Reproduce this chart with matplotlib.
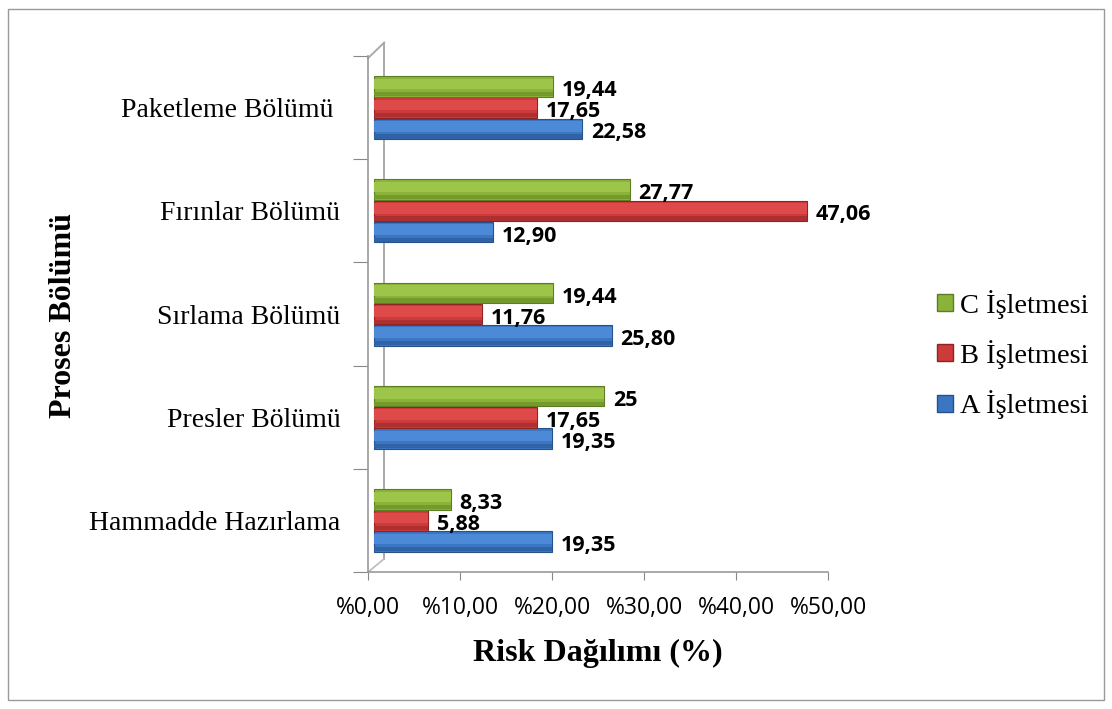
import numpy as np
import matplotlib
matplotlib.use("Agg")
from matplotlib import pyplot as plt
from matplotlib import transforms
from matplotlib.patches import Rectangle, Patch
from matplotlib.lines import Line2D

# data
categories = ["Hammadde Hazırlama", "Presler Bölümü", "Sırlama Bölümü",
              "Fırınlar Bölümü", "Paketleme Bölümü "]
a_values = [19.35, 19.35, 25.80, 12.90, 22.58]
b_values = [5.88, 17.65, 11.76, 47.06, 17.65]
c_values = [8.33, 25, 19.44, 27.77, 19.44]
a_labels = ["19,35", "19,35", "25,80", "12,90", "22,58"]
b_labels = ["5,88", "17,65", "11,76", "47,06", "17,65"]
c_labels = ["8,33", "25", "19,44", "27,77", "19,44"]
series_names = ["A İşletmesi", "B İşletmesi", "C İşletmesi"]
x_ticks = [0, 10, 20, 30, 40, 50]
x_tick_labels = ["%0,00", "%10,00", "%20,00", "%30,00", "%40,00", "%50,00"]

colors = ["#3A76C2", "#CC3A3A", "#8BB33A"]
lights = ["#4C89D6", "#DE4A4A", "#9CC549"]
darks = ["#2F63A6", "#AE2F2F", "#749A2C"]
edges = ["#24528C", "#8E2323", "#5E7D22"]

fig = plt.figure(figsize=(11.12, 7.09), dpi=100)
ax = fig.add_axes([0.331, 0.193, 0.414, 0.728])

# bars sit on the 3d floor, a few pixels to the right of the front spine
shift = ax.transData + transforms.ScaledTranslation(6 / 100, 0, fig.dpi_scale_trans)

y = np.arange(len(categories))
h = 0.205
offsets = [-h, 0, h]
all_vals = [a_values, b_values, c_values]
all_labs = [a_labels, b_labels, c_labels]

for k in range(3):
    bars = ax.barh(y + offsets[k], all_vals[k], height=h * 0.97, color=colors[k],
                   edgecolor=edges[k], linewidth=0.8, zorder=3)
    hl = ax.barh(y + offsets[k] + h * 0.12, all_vals[k], height=h * 0.5,
                 color=lights[k], linewidth=0, zorder=3.5)
    dk = ax.barh(y + offsets[k] - h * 0.36, all_vals[k], height=h * 0.2,
                 color=darks[k], linewidth=0, zorder=3.5)
    for p in list(bars) + list(hl) + list(dk):
        p.set_transform(shift)
    for i in range(len(categories)):
        ax.text(all_vals[k][i] + 1.6, y[i] + offsets[k] - 0.04, all_labs[k][i],
                fontsize=15.5, fontweight="bold", family="Open Sans",
                ha="left", va="center", color="black", zorder=4)

ax.set_xlim(0, 50)
ax.set_ylim(-0.5, len(categories) - 0.5)
ax.set_xticks(x_ticks)
ax.set_xticklabels(x_tick_labels, family="Open Sans", fontsize=16.5)
ax.set_yticks(np.arange(-0.5, len(categories) + 0.5, 1.0), minor=False)
ax.set_yticklabels([])
ax.set_yticks(y, minor=True)
ax.set_yticklabels(categories, minor=True, family="Liberation Serif", fontsize=20)
ax.tick_params(axis="y", which="minor", length=0, pad=20)
ax.tick_params(axis="y", which="major", length=11, color="#888888")
ax.tick_params(axis="x", length=6, color="#888888", pad=11)

for s in ["top", "right"]:
    ax.spines[s].set_visible(False)
ax.spines["left"].set_color("#999999")
ax.spines["bottom"].set_color("#999999")
ax.spines["left"].set_linewidth(1.2)
ax.spines["bottom"].set_linewidth(1.2)

# back wall of the 3d look
dx = 1.75
dy = 0.13
ax.add_line(Line2D([dx, dx], [-0.5 + dy, 4.5 + dy], color="#AAAAAA", lw=1.4, clip_on=False))
ax.add_line(Line2D([0, dx], [4.5 - 0.02, 4.5 + dy], color="#AAAAAA", lw=1.4, clip_on=False))
ax.add_line(Line2D([0, dx], [-0.5, -0.5 + dy], color="#BBBBBB", lw=1.2, clip_on=False))

ax.set_xlabel("Risk Dağılımı (%)", family="Liberation Serif", fontsize=23,
              fontweight="bold", labelpad=14)
fig.text(0.057, 0.555, "Proses Bölümü", family="Liberation Serif", fontsize=23,
         fontweight="bold", rotation=90, ha="center", va="center")

handles = [Patch(facecolor=colors[k], edgecolor=edges[k]) for k in [2, 1, 0]]
leg = fig.legend(handles, [series_names[k] for k in [2, 1, 0]],
                 loc="center left", bbox_to_anchor=(0.82, 0.5), frameon=False,
                 prop={"family": "Liberation Serif", "size": 20.5},
                 handlelength=0.55, handleheight=0.55, handletextpad=0.25,
                 labelspacing=0.75)

fig.patches.append(Rectangle((0.007, 0.012), 0.986, 0.976, transform=fig.transFigure,
                             fill=False, edgecolor="#999999", lw=1.0))

fig.savefig("out.png", dpi=100)
